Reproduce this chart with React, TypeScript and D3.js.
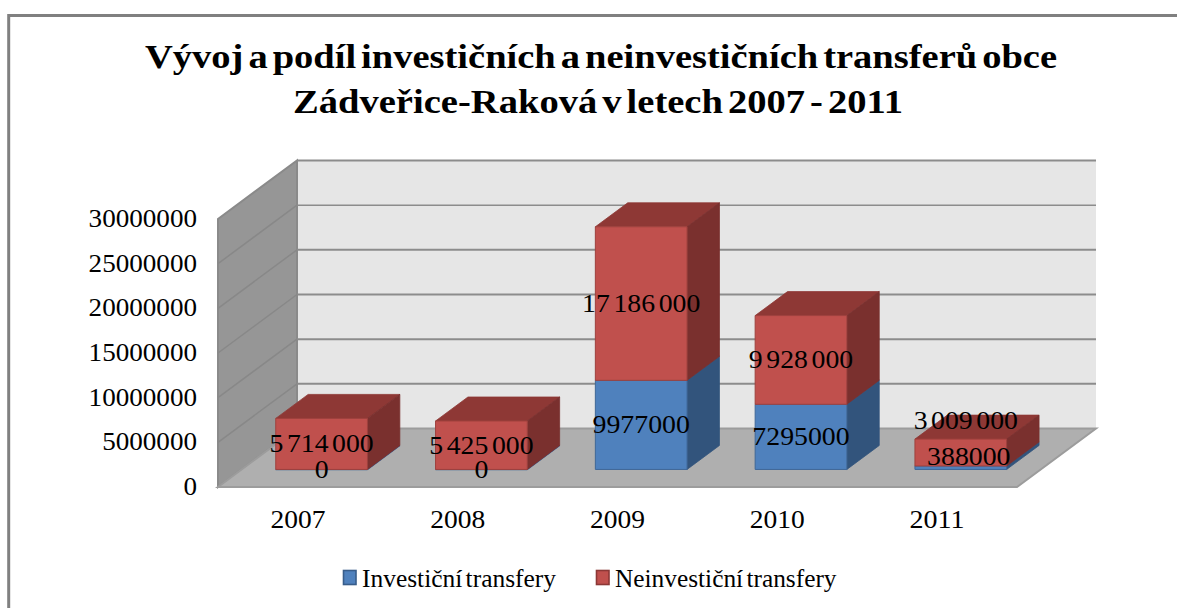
import React from "react";
import * as d3 from "d3";

const years = ["2007", "2008", "2009", "2010", "2011"];
const investicni = [0, 0, 9977000, 7295000, 388000];
const neinvesticni = [5714000, 5425000, 17186000, 9928000, 3009000];
const yTicks = [0, 5000000, 10000000, 15000000, 20000000, 25000000, 30000000];
const titleLines = [
  "Vývoj a podíl investičních a neinvestičních transferů obce",
  "Zádveřice-Raková v letech 2007 - 2011",
];
const seriesNames = ["Investiční transfery", "Neinvestiční transfery"];

const FONT = "'Liberation Serif', serif";
const C = {
  frame: "#808080",
  back: "#E6E6E6",
  side: "#969696",
  sideEdge: "#8A8A8A",
  floor: "#AFAFAF",
  floorEdge: "#9C9C9C",
  grid: "#8C8C8C",
  sideGrid: "#888888",
  blue: { front: "#4F81BD", side: "#32547C", top: "#3C6390", line: "#3F6797" },
  red: { front: "#C0504D", side: "#7A302E", top: "#8E3835", line: "#9E403D" },
};

const x = d3.scaleBand<string>().domain(years).range([218, 1017]);
const y = d3.scaleLinear().domain([0, 30000000]).range([487, 219]);
const DX = 79;
const DY = -58.5;
const project = (px: number, py: number, depth: number): [number, number] => [px + depth * DX, py + depth * DY];
const poly = (pts: [number, number][]) => d3.line()(pts)! + "Z";

const BAR_W = 91.7;
const D0 = 0.3;
const D1 = 0.71;

const spaced = d3.formatLocale({ decimal: ",", thousands: " ", grouping: [3], currency: ["", ""] }).format(",");
const digitW = 13.9;
const labelWidth = (s: string) => {
  const digits = s.replace(/ /g, "").length;
  const spaces = s.length - digits;
  return digits * digitW + spaces * 3.5;
};

function Bar({ i, from, to, color }: { i: number; from: number; to: number; color: typeof C.blue }) {
  const cx = x(years[i])! + x.bandwidth() / 2;
  const l = cx - BAR_W / 2;
  const r = cx + BAR_W / 2;
  const y0 = y(from);
  const y1 = y(to);
  const p = project;
  const front = poly([p(l, y0, D0), p(r, y0, D0), p(r, y1, D0), p(l, y1, D0)]);
  const side = poly([p(r, y0, D0), p(r, y0, D1), p(r, y1, D1), p(r, y1, D0)]);
  const top = poly([p(l, y1, D0), p(r, y1, D0), p(r, y1, D1), p(l, y1, D1)]);
  return (
    <g>
      <path d={top} fill={color.top} stroke={color.top} strokeWidth={0.8} />
      <path d={side} fill={color.side} stroke={to === from ? color.line : color.side} strokeWidth={to === from ? 1.6 : 0.8} />
      <path d={front} fill={color.front} stroke={color.line} strokeWidth={to === from ? 1.4 : 1} />
    </g>
  );
}

function Txt({ tx, ty, w, children, anchor = "middle", size = 26, bold = false }: any) {
  const s = String(children);
  return (
    <text
      x={tx}
      y={ty}
      textAnchor={anchor}
      fontFamily={FONT}
      fontSize={size}
      fontWeight={bold ? 700 : 400}
      fill="#000"
      textLength={w}
      lengthAdjust="spacingAndGlyphs"
      wordSpacing={-size * 0.12}
      style={{ whiteSpace: "pre" }}
    >
      {s}
    </text>
  );
}

export default function App() {
  const floorL = 218;
  const floorR = 1017;
  const base = y(0);
  const top = y(30000000);
  const p = project;

  // hand-moved labels of the last column, as in the reference
  const moved: Record<string, [number, number]> = {
    "0-4": [8, -11],
    "1-4": [5, -32],
  };
  const titleStart = [145, 293];
  const titleWidth = [912, 610];

  return (
    <svg
      width={1177}
      height={608}
      viewBox="0 0 1177 608"
      style={{ position: "absolute", left: 0, top: 0, display: "block", background: "#fff" }}
    >
      <path d="M8.7 608V15.5H1177" fill="none" stroke={C.frame} strokeWidth={3} />

      {titleLines.map((t, i) => (
        <Txt key={t} tx={titleStart[i]} ty={68 + i * 44.5} w={titleWidth[i]} anchor="start" size={33} bold>
          {t}
        </Txt>
      ))}

      {/* back wall */}
      <path d={poly([p(floorL, top, 1), p(floorR, top, 1), p(floorR, base, 1), p(floorL, base, 1)])} fill={C.back} />
      {/* side wall */}
      <path
        d={poly([p(floorL, base, 0), p(floorL, top, 0), p(floorL, top, 1), p(floorL, base, 1)])}
        fill={C.side}
        stroke={C.sideEdge}
        strokeWidth={2}
      />
      {yTicks.slice(1).map((t) => {
        const a = p(floorL, y(t), 0);
        const b = p(floorL, y(t), 1);
        const c = p(floorR, y(t), 1);
        return (
          <g key={t}>
            {t < 30000000 && <line x1={a[0]} y1={a[1]} x2={b[0]} y2={b[1]} stroke={C.sideGrid} strokeWidth={1.5} />}
            <line x1={b[0]} y1={b[1]} x2={c[0]} y2={c[1]} stroke={C.grid} strokeWidth={t === 25000000 ? 1.5 : 2} />
          </g>
        );
      })}
      {/* floor */}
      <path
        d={poly([p(floorL, base, 0), p(floorR, base, 0), p(floorR, base, 1), p(floorL, base, 1)])}
        fill={C.floor}
        stroke={C.floorEdge}
        strokeWidth={2}
      />

      {/* bars */}
      {years.map((yr, i) => (
        <g key={yr}>
          <Bar i={i} from={0} to={investicni[i]} color={C.blue} />
          <Bar i={i} from={investicni[i]} to={investicni[i] + neinvesticni[i]} color={C.red} />
        </g>
      ))}

      {/* y axis */}
      {yTicks.map((t) => (
        <Txt key={t} tx={197} ty={y(t) + 8} anchor="end" size={25} w={String(t).length * 13.55}>
          {t}
        </Txt>
      ))}

      {/* x axis */}
      {years.map((yr) => (
        <Txt key={yr} tx={x(yr)! + x.bandwidth() / 2} ty={527.5} size={25} w={55}>
          {yr}
        </Txt>
      ))}

      {/* data labels */}
      {years.map((yr, i) => {
        const cx = x(yr)! + x.bandwidth() / 2 + D0 * DX;
        const a = String(investicni[i]);
        const b = spaced(neinvesticni[i]);
        const ya = y(investicni[i] / 2) + D0 * DY + 8.4;
        const yb = y(investicni[i] + neinvesticni[i] / 2) + D0 * DY + 8.4;
        const ma = moved[`0-${i}`] ?? [0, 0];
        const mb = moved[`1-${i}`] ?? [0, 0];
        return (
          <g key={yr}>
            <Txt tx={cx + ma[0]} ty={ya + ma[1]} w={labelWidth(a)}>
              {a}
            </Txt>
            <Txt tx={cx + mb[0]} ty={yb + mb[1]} w={labelWidth(b)}>
              {b}
            </Txt>
          </g>
        );
      })}

      {/* legend */}
      <rect x={343.5} y={570.5} width={12.5} height={14} fill={C.blue.front} stroke="#385D8A" strokeWidth={1.6} />
      <Txt tx={362} ty={586.5} anchor="start" size={25} w={194}>
        {seriesNames[0]}
      </Txt>
      <rect x={596.5} y={570.5} width={12.5} height={14} fill={C.red.front} stroke="#8C3836" strokeWidth={1.6} />
      <Txt tx={615} ty={586.5} anchor="start" size={25} w={221.5}>
        {seriesNames[1]}
      </Txt>
    </svg>
  );
}
